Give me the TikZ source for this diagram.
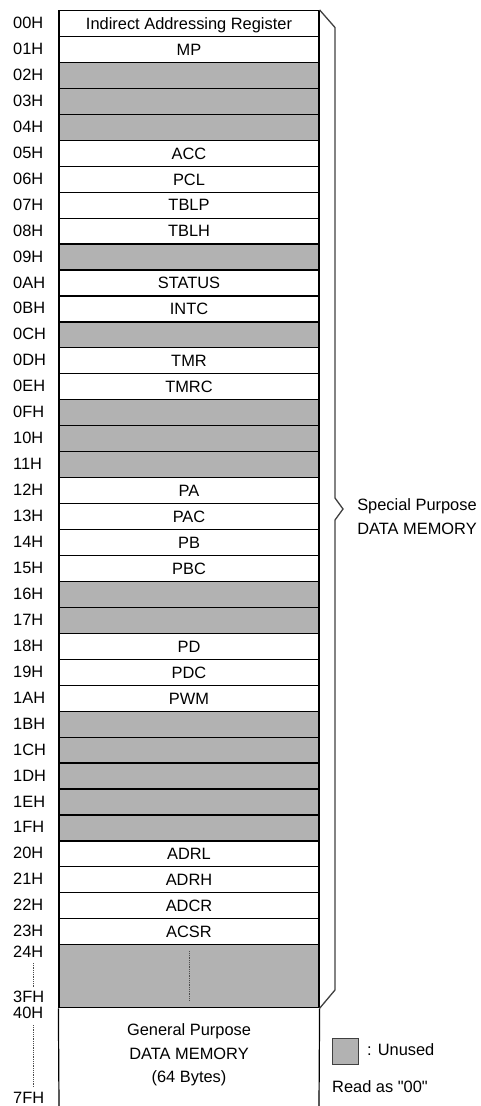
\documentclass[tikz,border=0pt]{standalone}
\usepackage{fontspec}
\setmainfont{Liberation Sans}
\newfontfamily\qfont{Liberation Sans}[Ligatures=ResetAll]
\usetikzlibrary{calc}
\definecolor{unused}{RGB}{178,178,178}
\definecolor{bracecol}{RGB}{64,64,64}
\tikzset{
  txtfont/.style={font=\fontsize{16.4pt}{23.5pt}\selectfont},
  lbl/.style={txtfont, anchor=west, inner sep=0pt, text height=11.7pt, text depth=0pt},
  reg/.style={txtfont, draw=black, line width=1.2pt, fill=white, minimum width=260pt,
    minimum height=25.95pt, inner sep=0pt, text height=11.7pt, text depth=0pt},
  gap/.style={reg, fill=unused},
  bracepath/.style={draw=bracecol, line width=1.3pt, line join=miter},
  fine/.style={densely dotted, line width=0.8pt, draw=black!70},
}
\begin{document}
\begin{tikzpicture}[x=1pt,y=-1pt]
\useasboundingbox (0,0) rectangle (481,1106);
\foreach \idx/\adr/\txt/\sty in {
  0/00H/Indirect Addressing Register/reg, 1/01H/MP/reg, 2/02H//gap, 3/03H//gap, 4/04H//gap,
  5/05H/ACC/reg, 6/06H/PCL/reg, 7/07H/TBLP/reg, 8/08H/TBLH/reg, 9/09H//gap,
  10/0AH/STATUS/reg, 11/0BH/INTC/reg, 12/0CH//gap, 13/0DH/TMR/reg, 14/0EH/TMRC/reg,
  15/0FH//gap, 16/10H//gap, 17/11H//gap, 18/12H/PA/reg, 19/13H/PAC/reg,
  20/14H/PB/reg, 21/15H/PBC/reg, 22/16H//gap, 23/17H//gap, 24/18H/PD/reg,
  25/19H/PDC/reg, 26/1AH/PWM/reg, 27/1BH//gap, 28/1CH//gap, 29/1DH//gap,
  30/1EH//gap, 31/1FH//gap, 32/20H/ADRL/reg, 33/21H/ADRH/reg, 34/22H/ADCR/reg,
  35/23H/ACSR/reg} {
  \node[\sty] (r\idx) at (189, {10.5+(\idx+0.5)*25.95}) {\txt};
  \node[lbl] (a\idx) at (13, {10.5+(\idx+0.5)*25.95-0.8}) {\adr};
}
% 24H..3FH block
\node[gap, minimum height=63pt] (blk) at (189, 976.2) {};
\draw[fine] ($(blk.north)+(0,7)$) -- ($(blk.south)+(0,-7)$);
% general purpose area
\coordinate (gl) at (59,1106);
\coordinate (gr) at (319,1106);
\draw[line width=1.2pt] (blk.south west) -- (gl);
\draw[line width=1.2pt] (blk.south east) -- (gr);
\node[txtfont, align=center, inner sep=0pt] (gp) at (189,1055)
  {General Purpose\\DATA MEMORY\\(64 Bytes)};
% address labels of the blocks
\node[lbl] (a36) at (13,951.5) {24H};
\node[lbl] (a37) at (13,996.5) {3FH};
\node[lbl] (a38) at (13,1013) {40H};
\node[lbl] (a39) at (13,1097.5) {7FH};
\draw[fine] (33,963) -- (33,988);
\draw[fine] (33,1025) -- (33,1087);
% brace
\draw[bracepath] (r0.north east) -- (335,27.5) -- (335,498) -- (343,509)
  -- (335,520) -- (335,990) -- (blk.south east);
\node[txtfont, align=center, inner sep=0pt] (sp) at (417,516.5)
  {Special Purpose\\DATA MEMORY};
% legend
\node[draw=bracecol, fill=unused, line width=1pt, minimum size=26pt, inner sep=0pt] (leg) at (345,1051) {};
\node[lbl] (legt) at (367,1050) {: Unused};
\node[lbl] (read) at (332,1087) {Read as {\qfont "00"}};
\end{tikzpicture}
\end{document}
